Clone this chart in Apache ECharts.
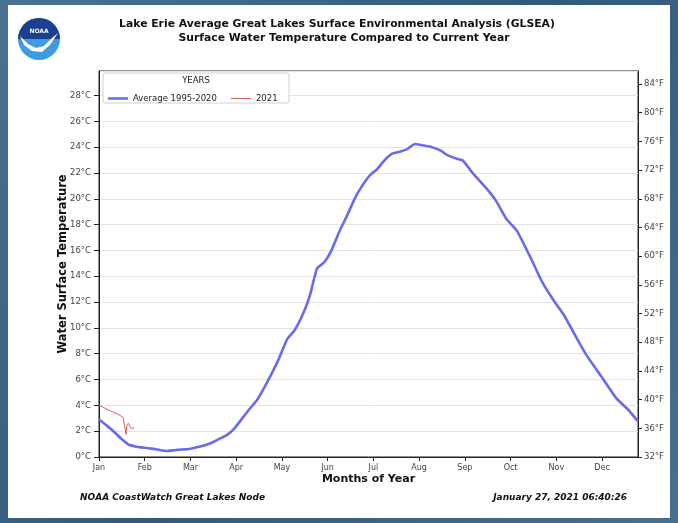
<!DOCTYPE html>
<html>
<head>
<meta charset="utf-8">
<script src="https://cdn.jsdelivr.net/npm/echarts@6/dist/echarts.min.js"></script>
<style>html,body{margin:0;padding:0;background:#3f6585;}#c{width:678px;height:523px;}</style>
</head>
<body>
<div id="c"></div>
<script>
// ---- data ----
var monthLabels = ['Jan','Feb','Mar','Apr','May','Jun','Jul','Aug','Sep','Oct','Nov','Dec'];
var avgDays  = [0,5,10,15,20,25,30,35,40,45,50,55,60,65,70,75,80,85,90,95,100,105,110,115,120,125,130,135,140,145,150,155,160,165,170,175,180,185,190,195,200,205,210,215,220,227,232,238,242,249,257,264,271,278,287,295,302,309,317,324,334,344,352,358.5];
var avgTemps = [2.9,2.45,1.95,1.4,0.95,0.8,0.72,0.65,0.55,0.47,0.52,0.58,0.62,0.75,0.9,1.1,1.4,1.7,2.2,2.95,3.7,4.4,5.4,6.5,7.7,9.1,9.8,10.9,12.4,14.6,15.1,16.1,17.5,18.7,20.0,21.0,21.8,22.3,23.0,23.5,23.65,23.85,24.25,24.15,24.05,23.75,23.36,23.1,22.97,21.93,20.9,19.86,18.43,17.52,15.45,13.5,12.2,11.04,9.36,7.93,6.25,4.56,3.66,2.75];
var curDays  = [0,1,2,3,4,5,6,7,8,9,10,11,12,13,14,15,16,17,18,18.5,19.5,20.5,21.5,22.5,23.5];
var curTemps = [4.0,3.95,3.9,3.85,3.78,3.72,3.66,3.6,3.55,3.5,3.45,3.4,3.35,3.3,3.22,3.15,3.07,3.0,1.75,2.45,2.62,2.4,2.2,2.3,2.28];
var seriesNames = ['Average 1995-2020','2021'];
var yMaxC = 29.9;

var DAYS_PER_MONTH = 365/12;
function pairs(xs, ys){ return xs.map(function(x,i){ return [x, ys[i]]; }); }

var chart = echarts.init(document.getElementById('c'));
var font = 'DejaVu Sans';
chart.setOption({
  backgroundColor: {type:'linear',x:0,y:0,x2:1,y2:1,colorStops:[{offset:0,color:'#4b7193'},{offset:0.5,color:'#33597a'},{offset:1,color:'#47708f'}]},
  textStyle: {fontFamily: font},
  animation: false,
  graphic: [
    {type:'rect', shape:{x:8,y:5,width:662,height:513}, style:{fill:'#ffffff'}, z:-10},
    // NOAA logo
    {type:'circle', shape:{cx:39,cy:39,r:21}, style:{fill:'#3d9be0'}},
    {type:'sector', shape:{cx:39,cy:39,r:21,r0:0,startAngle:Math.PI,endAngle:Math.PI*2}, style:{fill:'#1d3f8f'}},
    {type:'polygon', shape:{points:[[20,36],[28,44],[36,48],[44,46],[52,38],[58,33],[50,45],[42,52],[32,51],[24,45]]}, style:{fill:'#ffffff'}},
    {type:'text', style:{x:39,y:31,text:'NOAA',fill:'#ffffff',font:'bold 6px DejaVu Sans',align:'center',verticalAlign:'middle'}},
    // titles
    {type:'text', style:{x:337,y:24,text:'Lake Erie Average Great Lakes Surface Environmental Analysis (GLSEA)',fill:'#111',font:'bold 10.8px DejaVu Sans',align:'center',verticalAlign:'middle'}},
    {type:'text', style:{x:344,y:38,text:'Surface Water Temperature Compared to Current Year',fill:'#111',font:'bold 10.8px DejaVu Sans',align:'center',verticalAlign:'middle'}},
    // footer
    {type:'text', style:{x:80,y:498,text:'NOAA CoastWatch Great Lakes Node',fill:'#111',font:'italic bold 9px DejaVu Sans',align:'left',verticalAlign:'middle'}},
    {type:'text', style:{x:627,y:498,text:'January 27, 2021 06:40:26',fill:'#111',font:'italic bold 9px DejaVu Sans',align:'right',verticalAlign:'middle'}},
    // legend box + title
    {type:'rect', shape:{x:103,y:73,width:186,height:30,r:2}, style:{fill:'rgba(255,255,255,0.9)',stroke:'#d0d0d0',lineWidth:1}, z:50},
    {type:'text', style:{x:196,y:81,text:'YEARS',fill:'#222',font:'8.5px DejaVu Sans',align:'center',verticalAlign:'middle'}, z:51}
  ],
  legend: {
    left: 103, top: 89, z: 60,
    itemGap: 14, itemWidth: 20, itemHeight: 8,
    textStyle: {fontSize: 8.5, color:'#222', fontFamily: font},
    data: [{name: seriesNames[0], icon:'path://M0,0 L20,0 L20,2.5 L0,2.5 Z'}, {name: seriesNames[1], icon:'path://M0,0 L20,0 L20,1 L0,1 Z'}]
  },
  grid: {left: 99, right: 40, top: 71, bottom: 66, show: true, borderColor: '#222', borderWidth: 1, backgroundColor:'#fff'},
  xAxis: {
    type: 'value', min: 0, max: 358.5, interval: DAYS_PER_MONTH,
    name: 'Months of Year', nameLocation: 'middle', nameGap: 17, nameMoveOverlap: false,
    nameTextStyle: {fontSize: 11, fontWeight: 'bold', color:'#111', fontFamily: font},
    axisLine: {lineStyle:{color:'#222'}},
    axisTick: {length: 4, lineStyle:{color:'#222'}},
    splitLine: {show: false},
    axisLabel: {fontSize: 8, color:'#444', margin: 7, showMaxLabel: false,
      formatter: function(v){ var i = Math.round(v/DAYS_PER_MONTH); return monthLabels[i] || ''; }}
  },
  yAxis: [{
    type: 'value', min: 0, max: yMaxC, interval: 2,
    name: 'Water Surface Temperature', nameLocation: 'middle', nameGap: 30, nameMoveOverlap: false,
    nameTextStyle: {fontSize: 11.5, fontWeight: 'bold', color:'#111', fontFamily: font},
    axisLine: {show: true, lineStyle:{color:'#222'}},
    axisTick: {show: true, length: 5, lineStyle:{color:'#222'}},
    splitLine: {show: true, lineStyle:{color:'#e4e4e4', width: 1}},
    axisLabel: {fontSize: 8.5, color:'#444', margin: 8, showMaxLabel: false, formatter: '{value}°C'}
  },{
    type: 'value', min: 32, max: yMaxC*1.8+32, interval: 4, position: 'right',
    axisLine: {show: true, lineStyle:{color:'#222'}},
    axisTick: {show: true, length: 4, lineStyle:{color:'#222'}},
    splitLine: {show: false},
    axisLabel: {fontSize: 8.5, color:'#444', margin: 6, showMaxLabel: false, formatter: '{value}°F'}
  }],
  series: [
    {name: seriesNames[0], type: 'line', data: pairs(avgDays, avgTemps), showSymbol: false, symbol:'none', smooth: 0.15,
     lineStyle: {color:'#6a6af0', width: 2.6}, itemStyle:{color:'#6a6af0'}, z: 3},
    {name: seriesNames[1], type: 'line', data: pairs(curDays, curTemps), showSymbol: false, symbol:'none',
     lineStyle: {color:'#d4625c', width: 1}, itemStyle:{color:'#d4625c'}, z: 4}
  ]
});
</script>
</body>
</html>
